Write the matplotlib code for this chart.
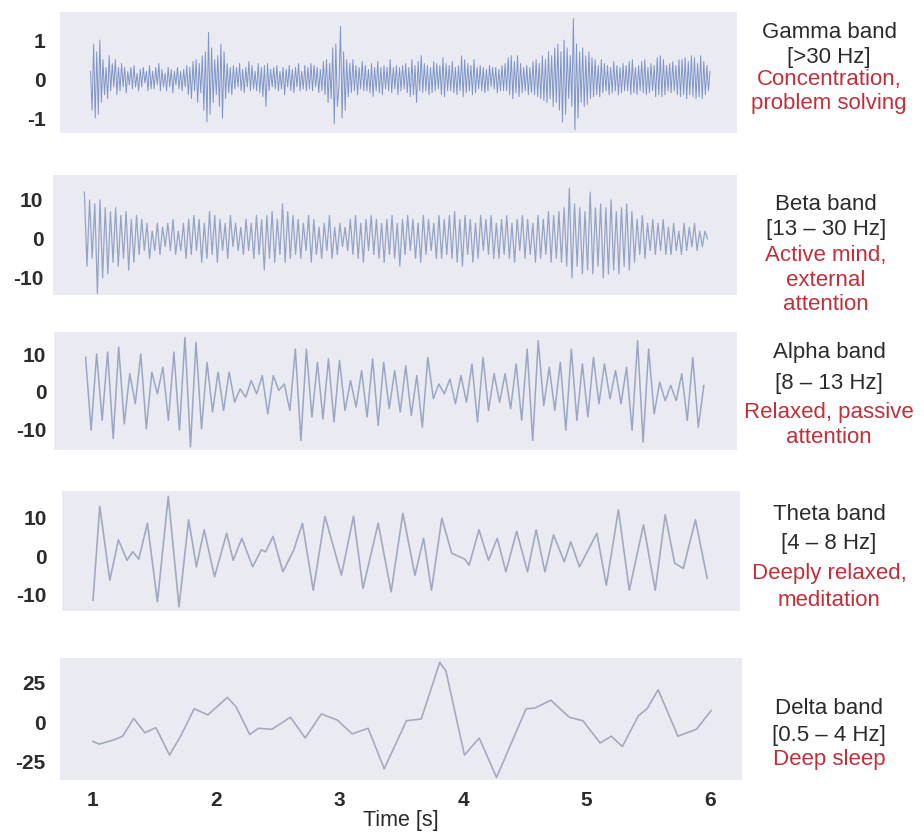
import numpy as np
import matplotlib.pyplot as plt

plt.rcParams['font.family'] = ['Liberation Sans', 'DejaVu Sans']

# -------------------------------
# data
# -------------------------------
gamma_span = (0.98, 6.0)
gamma_vals = [0.2, -0.8, 0.9, -1.0, 0.7, -0.9, 1.0, -0.6, 0.5, -0.4, 0.3, -0.5, 0.6, -0.3, 0.4, -0.2, 0.5, -0.4, 0.3, -0.3,
              0.4, -0.2, 0.3, -0.35, 0.2, -0.15, 0.3, -0.25, 0.35, -0.2, 0.15, -0.3, 0.25, -0.2, 0.3, -0.1, 0.2, -0.3, 0.35, -0.25,
              0.2, -0.25, 0.3, -0.15, 0.4, -0.3, 0.25, -0.2, 0.15, -0.3, 0.3, -0.2, 0.25, -0.35, 0.2, -0.15, 0.3, -0.25, 0.2, -0.3,
              0.25, -0.2, 0.35, -0.4, 0.3, -0.5, 0.45, -0.3, 0.5, -0.6, 0.4, -0.35, 0.6, -0.8, 0.7, -1.1, 1.2, -0.9, 0.8, -0.6,
              0.5, -0.4, 0.6, -0.7, 0.9, -1.0, 0.7, -0.5, 0.4, -0.35, 0.3, -0.4, 0.35, -0.25, 0.3, -0.2, 0.4, -0.3, 0.25, -0.35,
              0.3, -0.2, 0.45, -0.3, 0.35, -0.25, 0.2, -0.3, 0.4, -0.35, 0.3, -0.45, 0.35, -0.7, 0.4, -0.3, 0.25, -0.2, 0.3, -0.25,
              0.35, -0.3, 0.2, -0.25, 0.3, -0.4, 0.25, -0.2, 0.35, -0.3, 0.25, -0.35, 0.3, -0.2, 0.4, -0.3, 0.2, -0.25, 0.35, -0.3,
              0.3, -0.25, 0.4, -0.3, 0.35, -0.2, 0.3, -0.35, 0.25, -0.3, 0.45, -0.4, 0.5, -0.6, 0.4, -0.5, 0.8, -1.15, 0.9, -0.7,
              -0.2, 1.35, -1.0, 0.7, -0.8, 0.5, -0.45, 0.4, -0.35, 0.5, -0.3, 0.35, -0.4, 0.3, -0.25, 0.45, -0.3, 0.35, -0.3, 0.25,
              -0.35, 0.4, -0.45, 0.3, -0.3, 0.45, -0.35, 0.3, -0.4, 0.35, -0.25, 0.3, -0.3, 0.5, -0.35, 0.3, -0.25, 0.35, -0.4, 0.3,
              -0.3, 0.35, -0.25, 0.4, -0.35, 0.3, -0.45, 0.5, -0.4, 0.35, -0.6, 0.45, -0.3, 0.6, -0.35, 0.4, -0.3, 0.35, -0.4, 0.3,
              -0.35, 0.45, -0.3, 0.4, -0.25, 0.35, -0.4, 0.55, -0.45, 0.4, -0.3, 0.35, -0.3, 0.45, -0.35, 0.3, -0.4, 0.35, -0.3, 0.6,
              -0.45, 0.5, -0.35, 0.4, -0.3, 0.35, -0.4, 0.5, -0.35, 0.3, -0.25, 0.35, -0.3, 0.3, -0.35, 0.25, -0.3, 0.35, -0.2, 0.3,
              -0.25, 0.3, -0.35, 0.25, -0.3, 0.35, -0.3, 0.4, -0.3, 0.55, -0.4, 0.6, -0.5, 0.45, -0.35, 0.6, -0.45, 0.4, -0.35, 0.3,
              -0.3, 0.35, -0.4, 0.3, -0.35, 0.45, -0.4, 0.5, -0.45, 0.4, -0.5, 0.6, -0.55, 0.5, -0.6, 0.7, -0.5, 0.6, -0.7, 0.8,
              -0.6, 0.9, -0.8, 0.7, -1.1, 1.0, -0.9, 0.8, -0.5, 0.6, -0.7, 1.55, -1.3, 0.9, -1.0, 0.7, -0.6, 0.8, -0.7, 0.6,
              -0.65, 0.7, -0.5, 0.55, -0.45, 0.5, -0.4, 0.35, -0.45, 0.5, -0.35, 0.4, -0.3, 0.35, -0.4, 0.3, -0.35, 0.45, -0.3, 0.35,
              -0.4, 0.3, -0.35, 0.4, -0.3, 0.35, -0.3, 0.45, -0.4, 0.5, -0.35, 0.3, -0.4, 0.35, -0.3, 0.45, -0.35, 0.5, -0.4, 0.3,
              -0.35, 0.4, -0.3, 0.35, -0.45, 0.55, -0.4, 0.6, -0.45, 0.5, -0.4, 0.35, -0.3, 0.4, -0.35, 0.45, -0.3, 0.35, -0.4, 0.5,
              -0.45, 0.5, -0.4, 0.55, -0.5, 0.45, -0.4, 0.6, -0.45, 0.55, -0.5, 0.4, -0.45, 0.6, -0.5, 0.45, -0.4, 0.35, -0.3, 0.2]

beta_span = (0.93, 5.98)
beta_vals = [12, -7, 10, -5, 9, -14, 10, -10, 8, -9, 7, -6, 8, -7, 6, -5, 7, -8, 5, -6,
             6, -4, 5, -3, 4, -5, 2, -3, 4, -4, 3, -2, 4, -3, 5, -4, 2, -3, 4, -5,
             5, -4, 6, -3, 5, -6, 4, -5, 7, -4, 6, -6, 5, -3, 4, -5, 6, -2, 4, -3,
             3, -4, 5, -3, 4, -5, 6, -4, 5, -8, 6, -5, 7, -6, 5, -4, 9, -6, 7, -5,
             6, -4, 5, -5, 4, -3, 6, -6, 5, -4, 3, -5, 4, -3, 6, -5, 3, -4, 4, -2,
             3, -3, 5, -4, 6, -5, 4, -6, 5, -3, 6, -4, 5, -5, 4, -6, 5, -4, 6, -5,
             4, -7, 5, -4, 6, -3, 5, -5, 4, -6, 6, -4, 5, -3, 4, -5, 6, -5, 5, -4,
             6, -5, 7, -6, 5, -7, 6, -4, 5, -6, 4, -5, 6, -3, 5, -4, 6, -5, 4, -5,
             5, -4, 6, -5, 4, -6, 5, -3, 6, -5, 5, -4, 4, -6, 6, -5, 5, -4, 7, -6,
             6, -5, 7, -6, 8, -7, 13, -10, 9, -7, 8, -9, 7, -8, 12, -9, 8, -7, 9, -10,
             8, -9, 10, -8, 7, -9, 8, -7, 9, -8, 7, -6, 5, -4, 6, -5, 4, -3, 5, -4,
             4, -3, 5, -4, 3, -4, 4, -3, 2, -4, 4, -3, 3, -2, 4, -3, 2, -2, 2, 0]

alpha_span = (0.94, 5.95)
alpha_vals = [9.1, -10.1, 10.0, -7.5, 10.5, -12.3, 11.8, -8.4, 4.8, -3.1,
              10.0, -9.7, 5.2, -0.5, 6.5, -7.5, 10.5, -10.1, 14.4, -14.5,
              13.1, -9.7, 7.8, -5.3, 5.2, -4.9, 5.2, -2.7, 0.8, -1.4,
              3.0, -0.5, 4.3, -5.8, 4.3, 0.4, 2.1, -4.9, 11.3, -12.8,
              11.3, -6.6, 7.8, -7.1, 8.7, -7.9, 8.3, -4.9, 3.0, -4.0,
              5.6, -6.6, 8.7, -8.8, 7.8, -4.4, 5.6, -5.3, 6.9, -6.2,
              4.3, -9.3, 9.1, -1.8, 2.1, -0.5, 3.4, -3.1, 4.3, -2.7,
              7.4, -7.9, 9.1, -4.9, 4.8, -2.7, 4.8, -4.4, 7.4, -7.5,
              11.3, -12.8, 13.5, -3.6, 6.5, -4.9, 7.8, -10.1, 11.3, -7.5,
              7.4, -6.6, 9.1, -3.1, 7.4, -1.8, 5.6, -3.1, 6.5, -10.1,
              13.5, -13.2, 11.3, -5.8, 2.6, -2.3, 1.7, -2.3, 4.8, -7.5,
              9.1, -9.3, 1.7]

theta_t = [1.00, 1.055, 1.136, 1.206, 1.276, 1.322, 1.371, 1.441, 1.522, 1.610,
           1.697, 1.775, 1.838, 1.901, 1.985, 2.083, 2.136, 2.206, 2.294, 2.364,
           2.399, 2.459, 2.539, 2.627, 2.697, 2.785, 2.880, 3.013, 3.111, 3.188,
           3.311, 3.416, 3.511, 3.609, 3.679, 3.743, 3.827, 3.907, 4.013, 4.048,
           4.128, 4.205, 4.276, 4.346, 4.433, 4.521, 4.591, 4.662, 4.732, 4.819,
           4.872, 4.942, 5.083, 5.160, 5.258, 5.346, 5.461, 5.556, 5.637, 5.714,
           5.784, 5.882, 5.977]
theta_v = [-11.4, 13.0, -6.2, 4.3, -1.0, 1.2, -0.7, 8.6, -11.8, 15.6,
           -13.1, 9.5, -2.7, 6.9, -5.3, 6.0, -1.0, 4.7, -2.7, 1.7,
           1.2, 5.2, -4.0, 1.7, 8.6, -8.8, 10.4, -4.9, 10.4, -8.3,
           8.6, -9.2, 11.2, -4.9, 4.7, -8.8, 9.9, 0.8, -0.7, -2.3,
           6.9, -1.0, 4.7, -4.0, 6.5, -4.0, 6.9, -4.0, 5.6, -1.4,
           3.8, -2.7, 6.0, -7.5, 12.1, -8.8, 8.2, -8.8, 10.8, -1.8,
           -3.1, 9.5, -5.7]

delta_t = [1.00, 1.05, 1.17, 1.24, 1.33, 1.42, 1.51, 1.62, 1.71, 1.82,
           1.93, 2.09, 2.16, 2.27, 2.34, 2.45, 2.60, 2.72, 2.85, 2.98,
           3.10, 3.23, 3.36, 3.54, 3.66, 3.81, 3.86, 4.01, 4.13, 4.27,
           4.51, 4.58, 4.71, 4.86, 4.97, 5.11, 5.20, 5.29, 5.42, 5.49,
           5.58, 5.74, 5.89, 6.01]
delta_v = [-12, -13.7, -11, -8.7, 2.6, -6.5, -3.3, -20.6, -8.7, 8.7,
           4.8, 15.9, 9.8, -7.6, -3.7, -4.3, 3.3, -9.8, 5.4, 1.5,
           -7.2, -3.7, -29.3, 1.1, 2.2, 38, 32.6, -20.6, -9.8, -34.8,
           8.7, 9.1, 14.1, 3.3, 1.1, -13, -8.7, -15.2, 4.3, 8.7,
           20.7, -8.7, -4.3, 7.6]

band_names = ["Gamma band", "Beta band", "Alpha band", "Theta band", "Delta band"]
band_ranges = ["[>30 Hz]", "[13 \u2013 30 Hz]", "[8 \u2013 13 Hz]", "[4 \u2013 8 Hz]", "[0.5 \u2013 4 Hz]"]
band_states = [["Concentration,", "problem solving"],
               ["Active mind,", "external", "attention"],
               ["Relaxed, passive", "attention"],
               ["Deeply relaxed,", "meditation"],
               ["Deep sleep"]]
y_ticks = [[-1, 0, 1], [-10, 0, 10], [-10, 0, 10], [-10, 0, 10], [-25, 0, 25]]
x_ticks = [1, 2, 3, 4, 5, 6]

# -------------------------------
# layout (pixel boxes of the reference)
# -------------------------------
W, H = 924, 834
boxes = [(60, 12, 737, 133), (53, 175, 737, 295), (54, 332, 737, 450),
         (62, 491, 740, 611), (60, 658, 742, 780)]
ylims = [(-1.38, 1.72), (-14.4, 16.4), (-15.3, 15.8), (-14.2, 17.0), (-36.4, 40.8)]
ypads = [10.5, 7.0, 5.5, 11.0, 10.5]
text_y = [[33, 58, 80, 103], [205, 230, 255, 280, 305], [352, 383, 412, 438],
          [514, 543, 574, 600], [709, 735, 760]]
text_x = [829, 826, 829, 829, 829]
px_at_1, px_per_s = 93, 123.4

line_colors = ['#7f95c6', '#95a4c4', '#9ba7c2', '#a1a9c0', '#a4aabe']
line_widths = [0.7, 0.9, 1.1, 1.2, 1.2]
face = '#eaeaf2'
red = '#c0303a'
dark = '#2b2b2b'

series = [
    (np.linspace(*gamma_span, len(gamma_vals)), gamma_vals),
    (np.linspace(*beta_span, len(beta_vals)), beta_vals),
    (np.linspace(*alpha_span, len(alpha_vals)), alpha_vals),
    (theta_t, theta_v),
    (delta_t, delta_v),
]

fig = plt.figure(figsize=(W / 100, H / 100), dpi=100)

for i, (l, t, r, b) in enumerate(boxes):
    ax = fig.add_axes([l / W, 1 - b / H, (r - l) / W, (b - t) / H])
    ax.set_facecolor(face)
    x, y = series[i]
    ax.plot(x, y, color=line_colors[i], lw=line_widths[i])
    ax.set_xlim(1 + (l - px_at_1) / px_per_s, 6 + (r - 710) / px_per_s)
    ax.set_ylim(*ylims[i])
    ax.set_yticks(y_ticks[i])
    ax.set_yticklabels([str(v) for v in y_ticks[i]])
    for s in ax.spines.values():
        s.set_visible(False)
    ax.tick_params(axis='y', length=0, pad=ypads[i], labelsize=15, labelcolor=dark)
    for lab in ax.get_yticklabels():
        lab.set_fontweight('bold')
    if i < 4:
        ax.set_xticks([])
    else:
        ax.set_xticks(x_ticks)
        ax.tick_params(axis='x', length=0, pad=8, labelsize=15, labelcolor=dark)
        for lab in ax.get_xticklabels():
            lab.set_fontweight('bold')
        ax.set_xlabel("Time [s]", fontsize=15.5, color=dark, labelpad=0)

    # right-hand labels
    lines = [band_names[i], band_ranges[i]] + band_states[i]
    for k, txt in enumerate(lines):
        fig.text(text_x[i] / W, 1 - text_y[i][k] / H, txt,
                 ha='center', va='center', fontsize=16,
                 color=dark if k < 2 else red)

fig.savefig('out.png', dpi=100, facecolor='white')
